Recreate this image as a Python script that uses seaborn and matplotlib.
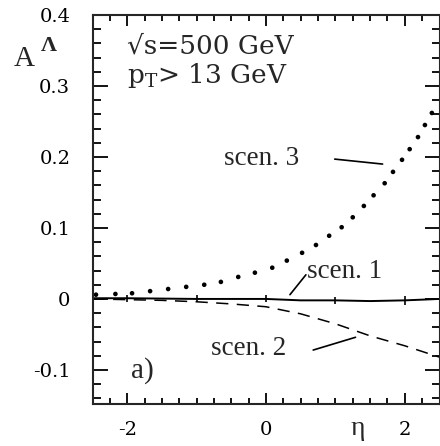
import numpy as np
import pandas as pd
import matplotlib
matplotlib.use("Agg")
import matplotlib.pyplot as plt
import seaborn as sns
from matplotlib.ticker import MultipleLocator

# ---- data ----
eta_s1 = [-2.5, -2.0, -1.5, -1.0, -0.5, 0.0, 0.5, 1.0, 1.5, 2.0, 2.5]
a_s1 = [0.001, 0.001, 0.0005, 0.0, 0.0, 0.0, -0.002, -0.002, -0.003, -0.002, 0.0]
eta_err = [-2.0, -1.0, 0.0, 1.0, 2.0]
a_err = [0.001, 0.0, 0.0, -0.002, -0.002]
err_s1 = [0.005, 0.005, 0.005, 0.005, 0.006]

eta_s2 = [-2.5, -2.0, -1.5, -1.0, -0.5, 0.0, 0.5, 1.0, 1.5, 2.0, 2.5]
a_s2 = [0.0, -0.001, -0.002, -0.004, -0.007, -0.011, -0.021, -0.035, -0.052, -0.066, -0.082]

eta_s3 = [-2.45, -2.17, -1.93, -1.67, -1.41, -1.15, -0.89, -0.65, -0.40, -0.16,
          0.09, 0.30, 0.52, 0.72, 0.91, 1.09, 1.25, 1.41, 1.55, 1.71, 1.83,
          1.96, 2.07, 2.19, 2.29, 2.39]
a_s3 = [0.006, 0.007, 0.008, 0.011, 0.014, 0.017, 0.020, 0.024, 0.031, 0.037,
        0.044, 0.054, 0.065, 0.076, 0.089, 0.101, 0.115, 0.131, 0.146, 0.163, 0.179,
        0.196, 0.211, 0.228, 0.245, 0.262]

yticks = [-0.1, 0.0, 0.1, 0.2, 0.3, 0.4]
ytick_labels = ["-0.1", "0", "0.1", "0.2", "0.3", "0.4"]
xticks = [-2, 0, 2]
xtick_labels = ["-2", "0", "2"]

sns.set_style("ticks")
plt.rcParams["font.family"] = ["Liberation Serif", "DejaVu Serif"]
plt.rcParams["mathtext.fontset"] = "stix"

fig = plt.figure(figsize=(4.4, 4.46), dpi=100)
ax = fig.add_axes([92.5 / 440, 42 / 446, 347 / 440, 389 / 446])

df1 = pd.DataFrame({"eta": eta_s1, "A": a_s1})
df2 = pd.DataFrame({"eta": eta_s2, "A": a_s2})
df3 = pd.DataFrame({"eta": eta_s3, "A": a_s3})

sns.lineplot(data=df1, x="eta", y="A", ax=ax, color="black", lw=1.4)
ax.errorbar(eta_err, a_err, yerr=err_s1, fmt="none", ecolor="black", elinewidth=1.2)
sns.lineplot(data=df2, x="eta", y="A", ax=ax, color="black", lw=1.1,
             linestyle=(0, (8, 5.5)))
sns.scatterplot(data=df3, x="eta", y="A", ax=ax, color="black", s=11,
                edgecolor="none")

ax.set_xlim(-2.5, 2.5)
ax.set_ylim(-0.148, 0.4)
ax.set_xticks(xticks)
ax.set_xticklabels(xtick_labels)
ax.set_yticks(yticks)
ax.set_yticklabels(ytick_labels)
ax.xaxis.set_minor_locator(MultipleLocator(0.25))
ax.yaxis.set_minor_locator(MultipleLocator(0.02))
ax.set_xlabel("")
ax.set_ylabel("")

for sp in ax.spines.values():
    sp.set_visible(True)
    sp.set_linewidth(1.5)

ax.tick_params(axis="both", which="both", direction="in", top=True, right=True,
               width=1.3, color="black", labelcolor="black")
ax.tick_params(axis="y", which="major", length=11, pad=16)
ax.tick_params(axis="y", which="minor", length=5.5)
ax.tick_params(axis="x", which="major", length=8, pad=12)
ax.tick_params(axis="x", which="minor", length=4.5)
for lab in ax.get_xticklabels() + ax.get_yticklabels():
    lab.set_fontfamily("DejaVu Serif")
    lab.set_fontsize(14)

# axis labels
fig.text(24 / 440, 1 - 59 / 446, "A", fontsize=21, ha="center", va="center")
fig.text(49 / 440, 1 - 46 / 446, "\u039b", fontsize=16, ha="center", va="center",
         fontweight="bold")
fig.text(358 / 440, 1 - 435 / 446, "\u03b7", fontsize=20, ha="center",
         va="baseline")

# annotations
ax.text(-2.0, 0.346, "\u221as=500 GeV", fontsize=19, family="DejaVu Serif",
        ha="left", va="baseline")
ax.text(-2.0, 0.304, r"p$_{\mathrm{T}}$> 13 GeV", fontsize=19, family="DejaVu Serif",
        math_fontfamily="dejavuserif", ha="left", va="baseline")
ax.text(-1.945, -0.111, "a)", fontsize=21, ha="left", va="baseline")

ax.text(-0.605, 0.189, "scen. 3", fontsize=19.5, ha="left", va="baseline")
ax.text(0.59, 0.0296, "scen. 1", fontsize=19.5, ha="left", va="baseline")
ax.text(-0.79, -0.079, "scen. 2", fontsize=19.5, ha="left", va="baseline")

line_kw = dict(arrowstyle="-", color="black", lw=1.2, shrinkA=0, shrinkB=0)
ax.annotate("", xy=(1.68, 0.190), xytext=(0.99, 0.197), arrowprops=line_kw)
ax.annotate("", xy=(0.345, 0.006), xytext=(0.575, 0.034), arrowprops=line_kw)
ax.annotate("", xy=(1.29, -0.054), xytext=(0.68, -0.072), arrowprops=line_kw)

fig.savefig("out.png", dpi=100)
